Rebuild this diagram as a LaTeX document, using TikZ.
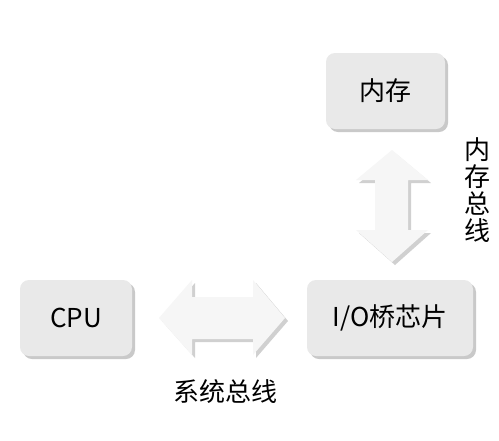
\documentclass[tikz,border=0pt]{standalone}
\usepackage{fontspec}
\setmainfont{Noto Sans CJK SC}
\usetikzlibrary{positioning}
\definecolor{boxfill}{HTML}{E9E9E9}
\definecolor{boxshadow}{HTML}{C9C9C9}
\definecolor{arrowfill}{HTML}{F6F6F6}
\definecolor{arrowshadow}{HTML}{D0D0D0}
\tikzset{
  unitbox/.style={fill=boxfill, rounded corners=9pt, minimum height=76pt, inner sep=0pt,
    font=\fontsize{26}{28}\selectfont, text=black},
  boxshade/.style={fill=boxshadow, rounded corners=9pt},
  blockarrow/.style={fill=arrowfill},
  arrowshade/.style={fill=arrowshadow},
  lbl/.style={font=\fontsize{26}{28}\selectfont, text=black, inner sep=0pt}
}
\begin{document}
\begin{tikzpicture}[x=1pt,y=-1pt]
\useasboundingbox[fill=white] (0,0) rectangle (499,440);
% shadows of boxes
\fill[boxshade] (329,56) rectangle (448,132);
\fill[boxshade] (23,283) rectangle (135,359);
\fill[boxshade] (310,283) rectangle (476,359);
% boxes
\node[unitbox, minimum width=119pt] (mem) at (385.5,91) {内存};
\node[unitbox, minimum width=112pt] (cpu) at (76,318) {CPU};
\node[unitbox, minimum width=166pt] (io) at (390,318) {I/O桥芯片};
% horizontal double arrow (system bus)
\coordinate (hc) at (222,318);
\fill[arrowshade] (162,321) -- (195,283) -- (195,300) -- (256,300) -- (256,283) -- (288,321) -- (256,358) -- (256,342) -- (195,342) -- (195,358) -- cycle;
\fill[blockarrow] (159,318) -- (192,280) -- (192,297) -- (253,297) -- (253,280) -- (285,318) -- (253,355) -- (253,339) -- (192,339) -- (192,355) -- cycle;
% vertical double arrow (memory bus)
\fill[arrowshade] (395,153) -- (431,183) -- (411,183) -- (411,233) -- (431,233) -- (395,265) -- (359,233) -- (378,233) -- (378,183) -- (359,183) -- cycle;
\fill[blockarrow] (392,150) -- (428,180) -- (408,180) -- (408,230) -- (428,230) -- (392,262) -- (356,230) -- (375,230) -- (375,180) -- (356,180) -- cycle;
% labels
\node[lbl] (sysbus) at (225,392) {系统总线};
\node[lbl, align=center, font=\fontsize{26}{27}\selectfont] (membus) at (477,190) {内\\存\\总\\线};
\end{tikzpicture}
\end{document}
